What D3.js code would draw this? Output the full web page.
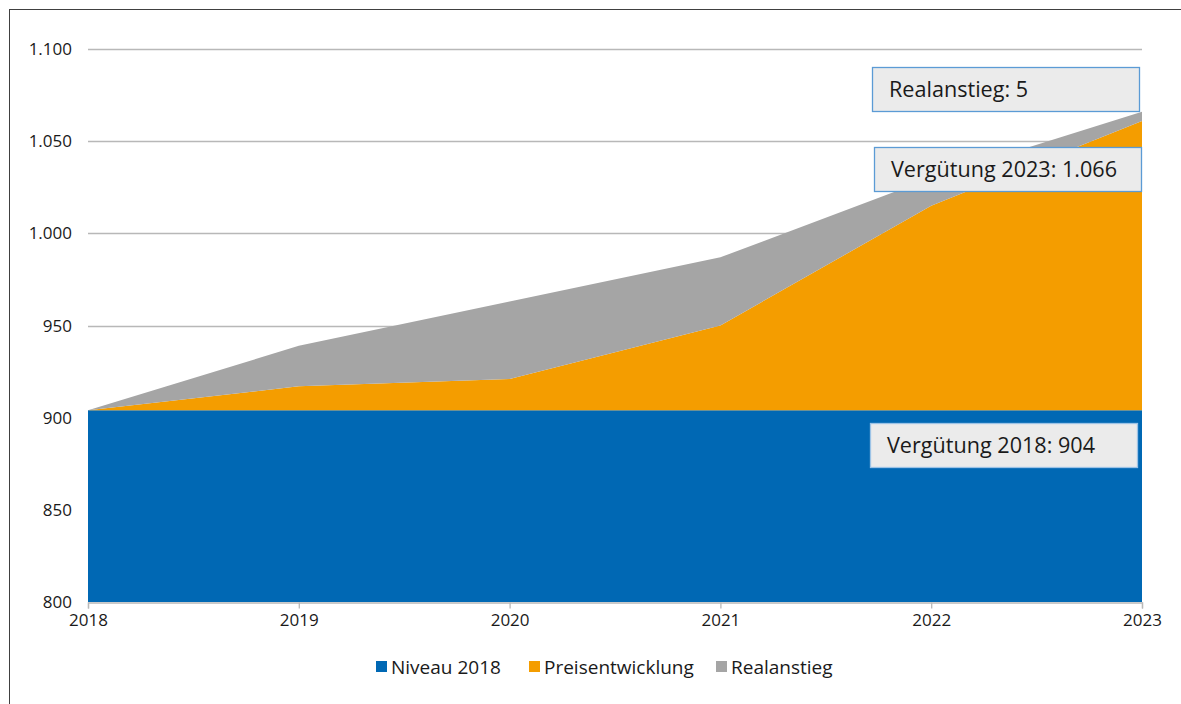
<!DOCTYPE html>
<html>
<head>
<meta charset="utf-8">
<script src="https://cdn.jsdelivr.net/npm/d3@7"></script>
<style>
  body { margin: 0; background: #fff; }
  svg text { font-family: "Open Sans", "Noto Sans", sans-serif; fill: #1a1a1a; }
</style>
</head>
<body>
<svg id="chart" width="1181" height="704"></svg>
<script>
  'use strict';

  var years = [2018, 2019, 2020, 2021, 2022, 2023];
  var seriesNames = ['Niveau 2018', 'Preisentwicklung', 'Realanstieg'];
  var niveau = [904, 904, 904, 904, 904, 904];
  var preis = [0, 13, 17, 46, 111, 157];
  var real = [0, 22, 42, 37, 15, 5];
  var yTicks = [800, 850, 900, 950, 1000, 1050, 1100];
  var colors = ['#0068b4', '#f49d00', '#a5a5a5'];
  var notes = [
    { text: 'Realanstieg: 5', year: 2023, value: 1090 },
    { text: 'Vergütung 2023: 1.066', year: 2023, value: 1047 },
    { text: 'Vergütung 2018: 904', year: 2023, value: 897 }
  ];

  (function () {
    var svg = d3.select('#chart'),
      left = 88,
      right = 1142,
      plotTop = 49,
      bottom = 602;

    // frame
    svg.append('rect')
      .attr('x', 9.5).attr('y', 9.5)
      .attr('width', 1200).attr('height', 720)
      .attr('fill', 'none')
      .attr('stroke', '#404040')
      .attr('stroke-width', 1);

    var x = d3.scaleLinear().domain([2018, 2023]).range([left, right]);
    var y = d3.scaleLinear().domain([800, 1100]).range([bottom, plotTop]);

    var rows = years.map(function (yr, i) {
      return { year: yr, niveau: niveau[i], preis: preis[i], real: real[i] };
    });
    var layers = d3.stack().keys(['niveau', 'preis', 'real'])(rows);

    // grid
    svg.append('g')
      .selectAll('line')
      .data(yTicks.slice(1))
      .enter().append('line')
      .attr('x1', left).attr('x2', right)
      .attr('y1', function (d) { return Math.round(y(d)) + 0.5; })
      .attr('y2', function (d) { return Math.round(y(d)) + 0.5; })
      .attr('stroke', '#b8b8b8')
      .attr('stroke-width', 1.3);

    var area = d3.area()
      .x(function (d) { return x(d.data.year); })
      .y0(function (d) { return y(Math.max(d[0], 800)); })
      .y1(function (d) { return y(d[1]); });

    svg.append('g')
      .selectAll('path')
      .data(layers)
      .enter().append('path')
      .attr('fill', function (d, i) { return colors[i]; })
      .attr('d', area);

    // y axis labels
    svg.append('g')
      .selectAll('text')
      .data(yTicks)
      .enter().append('text')
      .attr('x', 72)
      .attr('y', function (d) { return y(d) + 6; })
      .attr('text-anchor', 'end')
      .attr('font-size', 17)
      .text(function (d) { return d3.format(',')(d).replace(',', '.'); });

    // x axis
    var xAxis = d3.axisBottom(x)
      .tickValues(years)
      .tickFormat(d3.format('d'))
      .tickSize(6)
      .tickPadding(5);

    var gx = svg.append('g')
      .attr('transform', 'translate(0,' + (bottom + 0.5) + ')')
      .call(xAxis);
    gx.select('.domain').attr('stroke', '#b8b8b8').attr('stroke-width', 1.3);
    gx.selectAll('.tick line').attr('stroke', '#b8b8b8').attr('stroke-width', 1.3);
    gx.selectAll('.tick text')
      .attr('font-size', 17)
      .attr('font-family', '"Open Sans", "Noto Sans", sans-serif')
      .attr('fill', '#1a1a1a');

    // annotation boxes
    var boxW = 267, boxH = 44;
    var nb = svg.append('g')
      .selectAll('g')
      .data(notes)
      .enter().append('g')
      .attr('transform', function (d, i) {
        var bx = [872, 874, 870][i];
        return 'translate(' + bx + ',' + Math.round(y(d.value)) + ')';
      });
    nb.append('rect')
      .attr('x', 0.5).attr('y', 0.5)
      .attr('width', boxW).attr('height', boxH)
      .attr('fill', '#ebebeb')
      .attr('stroke', function (d, i) { return i === 2 ? '#9cc3e6' : '#5b9bd5'; })
      .attr('stroke-width', 1.3);
    nb.append('text')
      .attr('x', 17)
      .attr('y', 30)
      .attr('font-size', 21.6)
      .text(function (d) { return d.text; });

    // legend
    var legendX = [376, 529, 716];
    var lg = svg.append('g')
      .selectAll('g')
      .data(seriesNames)
      .enter().append('g')
      .attr('transform', function (d, i) { return 'translate(' + legendX[i] + ',661)'; });
    lg.append('rect')
      .attr('width', 11).attr('height', 11)
      .attr('fill', function (d, i) { return colors[i]; });
    lg.append('text')
      .attr('x', 15)
      .attr('y', 13)
      .attr('font-size', 19)
      .text(function (d) { return d; });
  })();
</script>
</body>
</html>
